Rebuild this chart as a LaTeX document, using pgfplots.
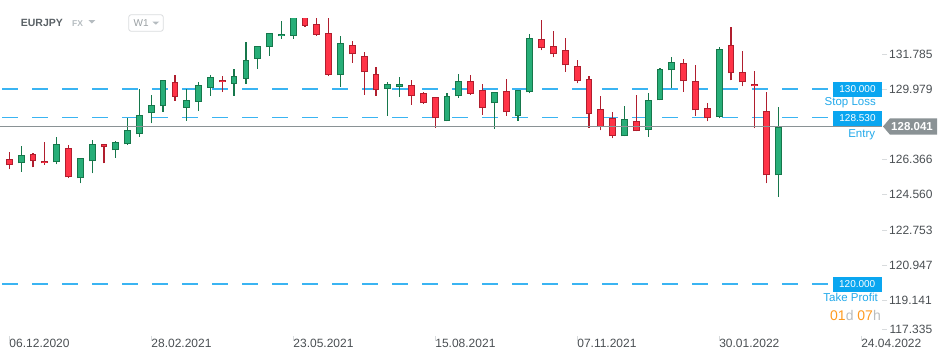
\documentclass[border=0pt]{standalone}
\usepackage{pgfplots}
\pgfplotsset{compat=1.18}
\usepackage{pgfplotstable}
\usepackage{fontspec}
\setmainfont{Liberation Sans}

\definecolor{gfill}{HTML}{27AE78}
\definecolor{gline}{HTML}{16774B}
\definecolor{rfill}{HTML}{FF3347}
\definecolor{rline}{HTML}{B01E2E}
\definecolor{lvlcol}{HTML}{3AB4F2}
\definecolor{lvltext}{HTML}{22A9EA}
\definecolor{lvlbox}{HTML}{0AA6F0}
\definecolor{pricegray}{HTML}{8A9295}
\definecolor{axtext}{HTML}{4A4F53}
\definecolor{tickgray}{HTML}{D8DBDD}
\definecolor{orng}{HTML}{FF9A1F}
\definecolor{hdr}{HTML}{5A6166}
\definecolor{hdrlight}{HTML}{B5BCC0}
\definecolor{cdgray}{HTML}{B9BDC0}

% weekly candles, x = week index (0 = 06.12.2020)
\pgfplotstableread{
x o h l c
1 126.17 127.06 125.74 126.59
4 126.23 127.52 126.12 127.15
6 125.41 126.43 125.15 126.43
7 126.28 127.37 125.66 127.15
9 126.84 127.32 126.46 127.25
10 127.15 128.50 127.12 127.87
11 127.66 129.97 127.54 128.64
12 128.74 129.68 128.23 129.15
13 129.10 130.45 128.82 130.43
15 129.03 129.99 128.36 129.42
16 129.33 130.34 128.86 130.17
17 130.05 130.70 129.64 130.58
19 130.26 131.01 129.64 130.64
20 130.51 132.40 130.26 131.46
21 131.54 132.17 131.03 132.17
22 132.12 132.84 131.69 132.84
23 132.69 133.47 132.56 132.81
24 132.72 134.00 132.56 133.75
28 130.69 132.70 130.10 132.33
32 130.00 130.33 128.62 130.23
33 130.10 130.60 129.59 130.23
37 128.33 129.76 128.33 129.61
38 129.61 130.75 129.54 130.38
41 129.25 129.82 127.95 129.82
43 128.59 129.92 128.36 129.92
44 129.82 132.81 129.76 132.59
52 127.56 129.10 127.56 128.43
54 127.87 129.76 127.55 129.41
55 129.41 131.05 129.41 131.00
56 130.94 131.61 130.02 131.35
60 128.53 132.12 128.48 132.02
65 125.56 129.05 124.46 128.04
}\greentab

\pgfplotstableread{
x o h l c
0 126.38 126.75 125.87 126.07
2 126.64 126.69 125.97 126.28
3 126.28 127.27 126.10 126.17
5 126.94 127.10 125.42 125.46
8 127.15 127.16 126.17 127.00
14 130.34 130.70 129.39 129.59
18 130.45 130.65 129.83 130.33
25 133.75 134.00 133.18 133.23
26 133.30 133.90 132.72 132.77
27 132.84 133.90 130.65 130.72
29 132.23 132.45 131.33 131.76
30 131.66 131.88 129.69 130.84
31 130.74 131.11 129.64 129.92
34 130.17 130.45 129.18 129.61
35 129.76 129.82 129.22 129.25
36 129.56 129.56 128.00 128.48
39 130.38 130.70 129.69 129.74
40 129.92 130.24 128.67 129.00
42 129.87 130.50 128.62 128.79
45 132.53 133.52 131.97 132.07
46 132.17 132.96 131.61 131.76
47 131.97 132.60 130.87 131.20
48 131.15 131.47 130.28 130.38
49 130.48 130.64 128.00 128.69
50 128.94 129.61 127.87 128.02
51 128.48 128.79 127.46 127.56
53 128.33 129.66 127.82 127.82
57 131.30 131.51 129.85 130.38
58 130.38 131.20 128.62 128.89
59 129.00 129.25 128.33 128.48
61 132.23 133.15 130.43 130.79
62 130.84 131.92 130.12 130.33
63 130.23 130.89 127.97 130.12
64 128.84 129.82 125.15 125.56
}\redtab

\pgfplotsset{
  candle/.style n args={2}{draw=none, mark=none, forget plot,
    error bars/.cd, y dir=plus, y explicit, error mark=none,
    error bar style={solid, draw=#1, line width=#2}},
  lvl/.style={draw=lvlcol, line width=1.8pt, dash pattern=on 16pt off 14pt, dash phase=28pt, forget plot},
}

\begin{document}
\begin{tikzpicture}[x=1pt,y=1pt]
\path[use as bounding box] (0,0) rectangle (950,360);
\begin{axis}[
  at={(0pt,24.3pt)}, anchor=south west,
  scale only axis, width=882pt, height=317.7pt,
  xmin=-0.786, xmax=73.77, ymin=117.335, ymax=133.63,
  axis line style={draw=none},
  clip mode=individual,
  xtick={0,12,24,36,48,60,72},
  xticklabels={06.12.2020,28.02.2021,23.05.2021,15.08.2021,07.11.2021,30.01.2022,24.04.2022},
  ytick={119.141,120.947,122.753,124.560,126.366,129.979,131.785},
  yticklabels={119.141,120.947,122.753,124.560,126.366,129.979,131.785},
  xtick pos=left, ytick pos=right, yticklabel pos=right,
  tick align=outside, major tick length=5pt,
  tick style={draw=tickgray, line width=0.9pt},
  ticklabel style={font=\fontsize{12}{12}\selectfont, text=axtext},
  xticklabel style={anchor=north west, inner sep=0pt, yshift=1.5pt},
  yticklabel style={anchor=west, inner sep=0pt, xshift=2pt},
]
% level lines (behind candles)
\addplot[lvl] coordinates {(-0.786,130) (69.55,130)};
\addplot[lvl] coordinates {(-0.786,128.53) (69.55,128.53)};
\addplot[lvl] coordinates {(-0.786,120) (69.55,120)};

% wicks
\addplot[candle={gline}{1.2pt}] table[x=x, y=l, y error plus expr=\thisrow{h}-\thisrow{l}] {\greentab};
\addplot[candle={rline}{1.2pt}] table[x=x, y=l, y error plus expr=\thisrow{h}-\thisrow{l}] {\redtab};
% bodies: border
\addplot[candle={gline}{6.8pt}] table[x=x, y=o, y error plus expr=\thisrow{c}-\thisrow{o}] {\greentab};
\addplot[candle={rline}{6.8pt}] table[x=x, y=c, y error plus expr=\thisrow{o}-\thisrow{c}] {\redtab};
% bodies: fill
\addplot[candle={gfill}{4.8pt}] table[x=x, y expr=\thisrow{o}+0.05, y error plus expr={max(\thisrow{c}-\thisrow{o}-0.10,0)}] {\greentab};
\addplot[candle={rfill}{4.8pt}] table[x=x, y expr=\thisrow{c}+0.05, y error plus expr={max(\thisrow{o}-\thisrow{c}-0.10,0)}] {\redtab};

% current price line (over candles)
\addplot[pricegray, line width=1pt, forget plot] coordinates {(-0.786,128.041) (73.77,128.041)};
\end{axis}

% lowest price label (held inside the picture, as in the reference)
\draw[tickgray, line width=0.9pt] (882,30.7) -- (887,30.7);
\node[anchor=west, inner sep=0pt, text=axtext, font=\fontsize{12}{12}\selectfont] at (889.5,30.7) {117.335};

% header
\node[anchor=west, inner sep=0pt, text=hdr, font=\bfseries\fontsize{10.5}{12}\selectfont] at (20.7,336.7) {EURJPY};
\node[anchor=west, inner sep=0pt, text=hdrlight, font=\bfseries\fontsize{8.5}{10}\selectfont] at (72,336) {FX};
\fill[hdrlight] (88.3,340) -- (95.3,340) -- (91.8,336.5) -- cycle;
\draw[draw=tickgray, line width=0.8pt, rounded corners=2.5pt] (128.7,328.7) rectangle (163.3,345.3);
\node[anchor=west, inner sep=0pt, text=hdrlight!85!black, font=\fontsize{10}{12}\selectfont] at (133.5,336.6) {W1};
\fill[hdrlight] (152.3,338.5) -- (159.3,338.5) -- (155.8,335.3) -- cycle;

% level boxes and labels
\fill[lvlbox] (833,263.3) rectangle (882,278);
\node[text=white, inner sep=0pt, font=\fontsize{10}{10}\selectfont] at (857.5,270.65) {130.000};
\node[anchor=east, inner sep=0pt, text=lvltext, font=\fontsize{11.5}{12}\selectfont] at (876,257.3) {Stop Loss};
\fill[lvlbox] (833,234.3) rectangle (882,249);
\node[text=white, inner sep=0pt, font=\fontsize{10}{10}\selectfont] at (857.5,241.65) {128.530};
\node[anchor=east, inner sep=0pt, text=lvltext, font=\fontsize{11.5}{12}\selectfont] at (875.3,225) {Entry};
\fill[pricegray] (883,233.5) -- (890,241.7) -- (937,241.7) -- (937,225.3) -- (890,225.3) -- cycle;
\node[text=white, inner sep=0pt, font=\bfseries\fontsize{11.5}{12}\selectfont] at (912,233.5) {128.041};
\fill[lvlbox] (832.7,68.3) rectangle (881.7,82.7);
\node[text=white, inner sep=0pt, font=\fontsize{10}{10}\selectfont] at (857.2,75.5) {120.000};
\node[anchor=east, inner sep=0pt, text=lvltext, font=\fontsize{11.5}{12}\selectfont] at (878,62.3) {Take Profit};
\node[anchor=east, inner sep=0pt, font=\fontsize{14}{14}\selectfont] at (881,45)
  {\textcolor{orng}{01}\textcolor{cdgray}{d} \textcolor{orng}{07}\textcolor{cdgray}{h}};
\end{tikzpicture}
\end{document}
